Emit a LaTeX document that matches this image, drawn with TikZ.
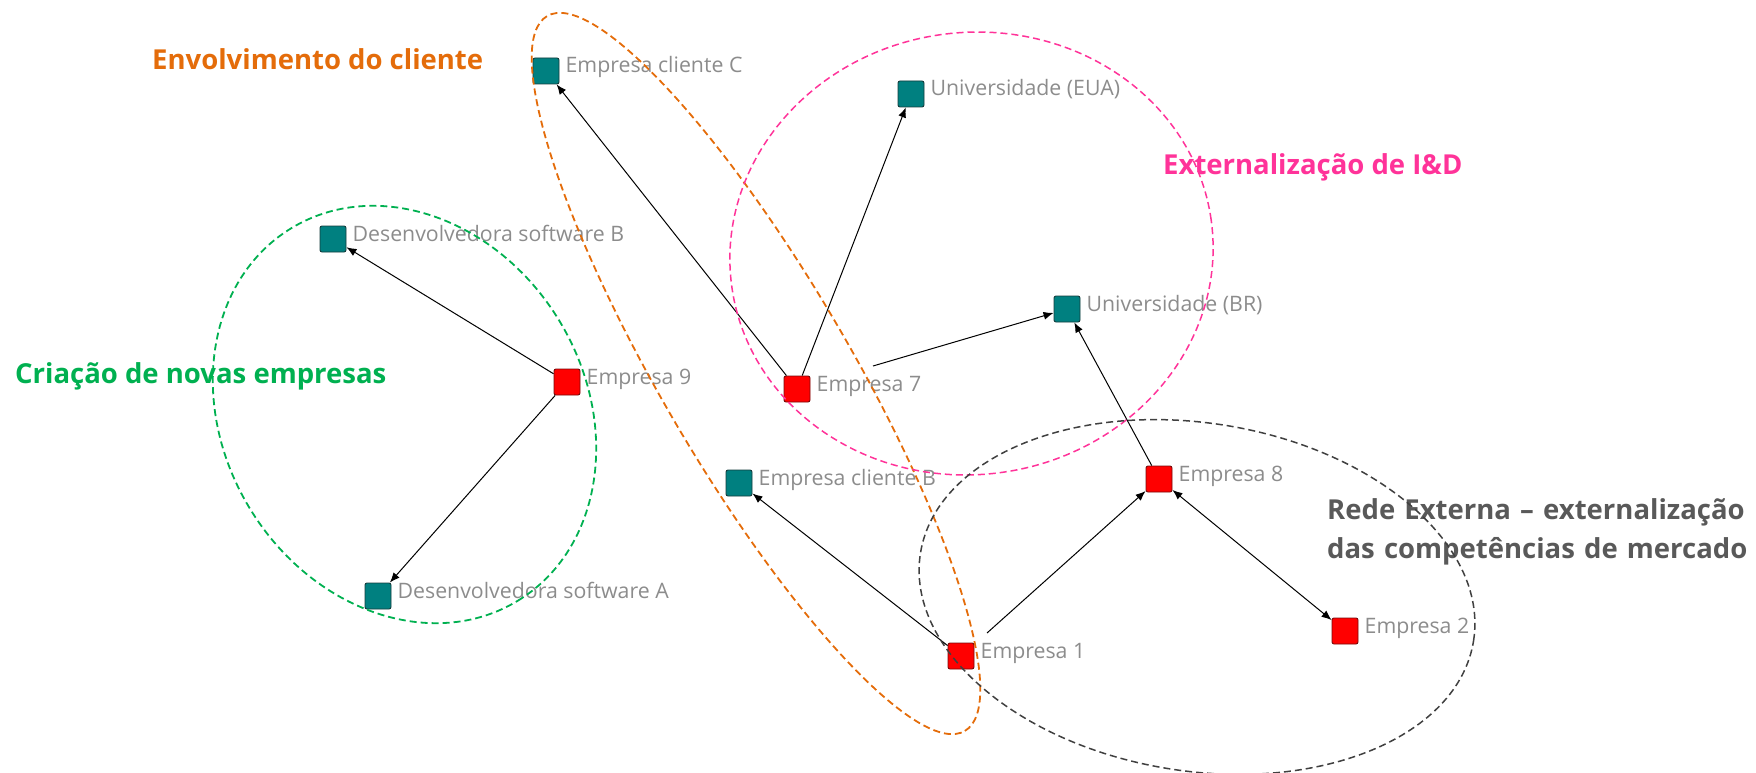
\documentclass[tikz,border=0pt]{standalone}
\usepackage{fontspec}
\setmainfont{Open Sans}
\usetikzlibrary{arrows.meta,calc}

\definecolor{tealfill}{RGB}{0,128,128}
\definecolor{tealline}{RGB}{20,60,60}
\definecolor{redfill}{RGB}{255,0,0}
\definecolor{redline}{RGB}{120,10,10}
\definecolor{lblgray}{RGB}{140,140,140}
\definecolor{orangec}{RGB}{228,108,10}
\definecolor{pinkc}{RGB}{255,51,153}
\definecolor{greenc}{RGB}{0,176,80}
\definecolor{graytxt}{RGB}{89,89,89}
\definecolor{grayring}{RGB}{64,64,64}

\tikzset{
  sqnode/.style={draw, minimum size=26pt, inner sep=0pt, rounded corners=2pt, line width=0.9pt},
  tealsq/.style={sqnode, fill=tealfill, draw=tealline},
  redsq/.style={sqnode, fill=redfill, draw=redline},
  lbl/.style={font=\fontsize{21.3}{25}\selectfont, text=lblgray, inner sep=0pt, anchor=base west},
  ttl/.style={font=\bfseries\fontsize{27.5}{39}\selectfont, inner sep=0pt, anchor=base west},
  edge/.style={draw=black, line width=1pt, -{Latex[length=10pt,width=8pt]}},
  edgeboth/.style={draw=black, line width=1pt, {Latex[length=10pt,width=8pt]}-{Latex[length=10pt,width=8pt]}},
  ring/.style={dash pattern=on 7pt off 4pt, line width=1.8pt},
}

\begin{document}
\begin{tikzpicture}[x=1pt,y=-1pt]
\useasboundingbox (0,0) rectangle (1756,773);

% actors
\node[tealsq] (cc)  at (546,71)  {};
\node[tealsq] (eua) at (911,94)  {};
\node[tealsq] (dsb) at (333,239) {};
\node[redsq]  (e9)  at (567,382) {};
\node[tealsq] (dsa) at (378,596) {};
\node[redsq]  (e7)  at (797,389) {};
\node[tealsq] (ubr) at (1067,309) {};
\node[tealsq] (ccb) at (739,483) {};
\node[redsq]  (e8)  at (1159,479) {};
\node[redsq]  (e2)  at (1345,631) {};
\node[redsq]  (e1)  at (961,656) {};

% actor names
\node[lbl] (ccL)  at ($(cc.east)+(6,2)$)  {Empresa cliente C};
\node[lbl] (euaL) at ($(eua.east)+(6,2)$) {Universidade (EUA)};
\node[lbl] (dsbL) at ($(dsb.east)+(6,2)$) {Desenvolvedora software B};
\node[lbl] (e9L)  at ($(e9.east)+(6,2)$)  {Empresa 9};
\node[lbl] (dsaL) at ($(dsa.east)+(6,2)$) {Desenvolvedora software A};
\node[lbl] (e7L)  at ($(e7.east)+(6,2)$)  {Empresa 7};
\node[lbl] (ubrL) at ($(ubr.east)+(6,2)$) {Universidade (BR)};
\node[lbl] (ccbL) at ($(ccb.east)+(6,2)$) {Empresa cliente B};
\node[lbl] (e8L)  at ($(e8.east)+(6,2)$)  {Empresa 8};
\node[lbl] (e2L)  at ($(e2.east)+(6,2)$)  {Empresa 2};
\node[lbl] (e1L)  at ($(e1.east)+(6,2)$)  {Empresa 1};

% links
\coordinate (e7out) at (873,366);
\coordinate (e1out) at (987,633);
\draw[edge] (e7) -- (cc);
\draw[edge] (e7) -- (eua);
\draw[edge] (e7out) -- (ubr);
\draw[edge] (e9) -- (dsb);
\draw[edge] (e9) -- (dsa);
\draw[edge] (e8) -- (ubr);
\draw[edgeboth] (e8) -- (e2);
\draw[edge] (e1out) -- (e8);
\draw[edge] (e1) -- (ccb);

% group titles
\node[ttl, text=orangec] (tEnv) at (152,70)  {Envolvimento do cliente};
\node[ttl, text=pinkc]   (tExt) at (1163,175) {Externalização de I\&D};
\node[ttl, text=greenc]  (tCri) at (15,383)  {Criação de novas empresas};
\node[ttl, text=graytxt, anchor=north west, text width=426pt, align=left] (tRede) at (1327,498)
  {\makebox[\linewidth][s]{Rede Externa – externalização}\\das competências de mercado};

% group outlines
\draw[ring, draw=orangec, rotate around={-59.7:(756,373.5)}]
  (756,373.5) ellipse [x radius=414pt, y radius=94.5pt];
\draw[ring, draw=greenc, rotate around={-58.7:(404.5,414.5)}]
  (404.5,414.5) ellipse [x radius=218pt, y radius=181pt];
\draw[ring, draw=pinkc, line width=1.5pt, rotate around={8:(971.5,253.5)}]
  (971.5,253.5) ellipse [x radius=242pt, y radius=221pt];
\draw[ring, draw=grayring, line width=1.5pt, rotate around={-9:(1197,597)}]
  (1197,597) ellipse [x radius=280pt, y radius=174pt];
\end{tikzpicture}
\end{document}
